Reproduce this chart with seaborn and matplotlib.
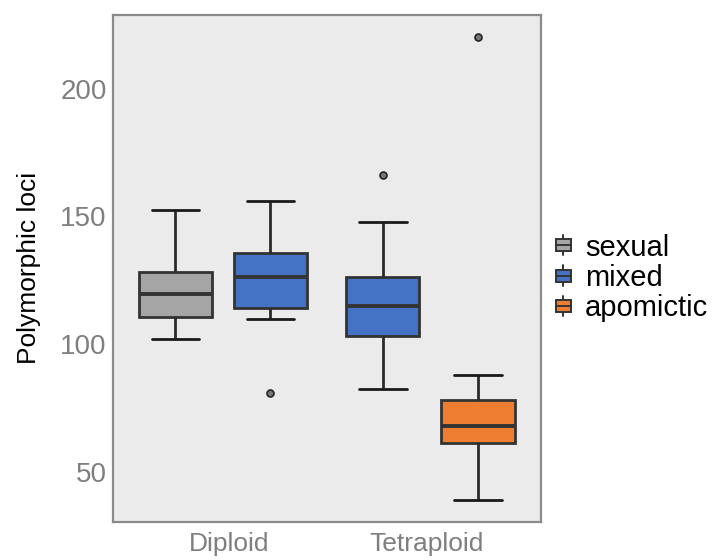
import numpy as np
import pandas as pd
import matplotlib
matplotlib.use("Agg")
import matplotlib.pyplot as plt
import seaborn as sns
from matplotlib.legend_handler import HandlerBase
from matplotlib.patches import Rectangle, Patch
from matplotlib.lines import Line2D

# ---- data ----
ploidies = ["Diploid", "Tetraploid"]
modes = ["sexual", "mixed", "apomictic"]
mode_colors = ["#A5A5A5", "#4472C4", "#ED7D31"]

diploid_sexual = [102.0, 106.0, 110.7, 115.0, 119.6, 124.0, 128.1, 140.0, 152.6]
diploid_mixed = [80.9, 109.8, 114.0, 120.0, 126.1, 131.0, 135.7, 145.0, 155.9]
tetraploid_mixed = [82.3, 95.0, 103.3, 110.0, 115.0, 121.0, 126.4, 147.9, 166.3]
tetraploid_apomictic = [39.0, 52.0, 61.3, 64.0, 67.8, 72.0, 78.1, 87.8, 220.0]

y_ticks = [50, 100, 150, 200]

groups = [
    ("Diploid", "sexual", diploid_sexual),
    ("Diploid", "mixed", diploid_mixed),
    ("Tetraploid", "mixed", tetraploid_mixed),
    ("Tetraploid", "apomictic", tetraploid_apomictic),
]
rows = []
for p, m, vals in groups:
    for v in vals:
        rows.append({"ploidy": p, "mode": m, "loci": v})
df = pd.DataFrame(rows)
color_of = dict(zip(modes, mode_colors))

# ---- style ----
sns.set_theme(style="white")
plt.rcParams["font.family"] = ["Liberation Sans", "DejaVu Sans"]

fig = plt.figure(figsize=(7.23, 5.6), dpi=100)
ax = fig.add_axes([113 / 723, 1 - 522 / 560, (541 - 113) / 723, (522 - 14.5) / 560])
ax.set_facecolor("#EBEBEB")

edge = "#333333"
for p in ploidies:
    sub = df[df["ploidy"] == p]
    present = [m for m in modes if m in set(sub["mode"])]
    sns.boxplot(
        data=sub, x="ploidy", y="loci", hue="mode",
        order=ploidies, hue_order=present,
        palette=[color_of[m] for m in present],
        saturation=1, width=0.916, gap=0.23,
        linewidth=2.0, linecolor=edge,
        medianprops=dict(linewidth=2.8, color=edge),
        whiskerprops=dict(linewidth=2.0, color="#2a2a2a"),
        capprops=dict(linewidth=2.0, color="#1a1a1a"),
        flierprops=dict(marker="o", markersize=5, markerfacecolor="#777777",
                        markeredgecolor="#222222", markeredgewidth=1.2),
        capwidths=0.23,
        legend=False, ax=ax,
    )

ax.set_xlim(-0.53, 1.533)
ax.set_ylim(30.3, 229)
ax.set_yticks(y_ticks)
ax.set_yticklabels([str(t) for t in y_ticks])
ax.set_xticks([0.03, 0.98])
ax.set_xticklabels(ploidies)
ax.set_xlabel("")
ax.set_ylabel("Polymorphic loci", fontsize=19, color="black", labelpad=14)

for s in ax.spines.values():
    s.set_visible(True)
    s.set_color("#8a8a8a")
    s.set_linewidth(1.6)
ax.tick_params(axis="both", colors="#8a8a8a", labelcolor="#7f7f7f",
               length=3.5, width=1.0, direction="out")
ax.tick_params(axis="y", pad=1, labelsize=20)
ax.tick_params(axis="x", pad=4, labelsize=19)
ax.grid(False)


class BoxHandler(HandlerBase):
    def create_artists(self, legend, orig_handle, xdescent, ydescent,
                       width, height, fontsize, trans):
        fc = orig_handle.get_facecolor()
        x0, y0 = -xdescent, -ydescent
        wl = Line2D([x0 + width / 2] * 2, [y0 - 0.15 * height, y0 + 1.15 * height],
                    color=edge, lw=1.4, transform=trans)
        r = Rectangle((x0, y0 + 0.12 * height), width, 0.76 * height,
                      facecolor=fc, edgecolor=edge, lw=1.4, transform=trans)
        md = Line2D([x0, x0 + width], [y0 + height / 2] * 2,
                    color=edge, lw=1.4, transform=trans)
        return [wl, r, md]


handles = [Patch(facecolor=c) for c in mode_colors]
leg = fig.legend(handles, modes, handler_map={Patch: BoxHandler()},
                 loc="center left", bbox_to_anchor=(556 / 723, 1 - 278 / 560),
                 frameon=False, fontsize=21, handlelength=0.5, handleheight=0.45,
                 handletextpad=0.5, labelspacing=0.08, borderaxespad=0, borderpad=0)
for t in leg.get_texts():
    t.set_color("black")

fig.savefig("out.png", dpi=100)
